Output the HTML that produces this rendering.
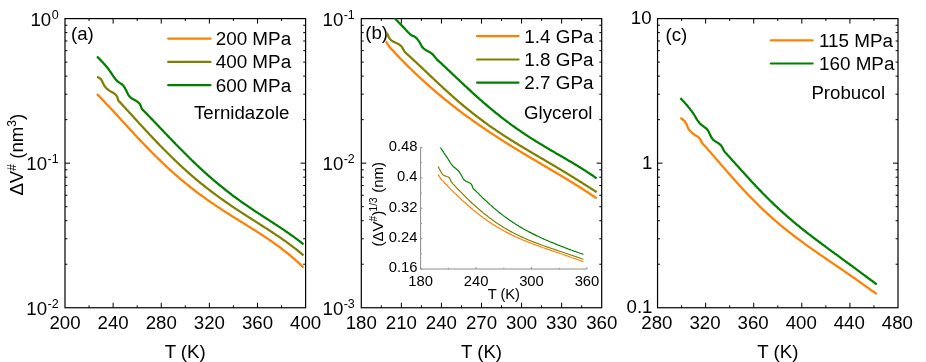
<!DOCTYPE html>
<html><head><meta charset="utf-8"><title>Activation volume vs temperature</title>
<style>
html,body{margin:0;padding:0;background:#fff;}
svg{display:block;}
text{font-family:'Liberation Sans', sans-serif;fill:#000;}
</style></head>
<body>
<svg width="926" height="362" viewBox="0 0 926 362">
<rect x="0" y="0" width="926" height="362" fill="#fff"/>
<rect x="65.0" y="18.6" width="240.60000000000002" height="289.15" fill="none" stroke="#000" stroke-width="1.2"/>
<path d="M113.12,307.75v-5.0 M113.12,18.6v5.0 M161.24,307.75v-5.0 M161.24,18.6v5.0 M209.36,307.75v-5.0 M209.36,18.6v5.0 M257.48,307.75v-5.0 M257.48,18.6v5.0 M89.06,307.75v-2.4 M89.06,18.6v2.4 M137.18,307.75v-2.4 M137.18,18.6v2.4 M185.30,307.75v-2.4 M185.30,18.6v2.4 M233.42,307.75v-2.4 M233.42,18.6v2.4 M281.54,307.75v-2.4 M281.54,18.6v2.4 M65.0,119.65h2.4 M305.6,119.65h-2.4 M65.0,94.20h2.4 M305.6,94.20h-2.4 M65.0,76.13h2.4 M305.6,76.13h-2.4 M65.0,62.12h2.4 M305.6,62.12h-2.4 M65.0,50.67h2.4 M305.6,50.67h-2.4 M65.0,40.99h2.4 M305.6,40.99h-2.4 M65.0,32.61h2.4 M305.6,32.61h-2.4 M65.0,25.22h2.4 M305.6,25.22h-2.4 M65.0,163.17h5.0 M305.6,163.17h-5.0 M65.0,264.23h2.4 M305.6,264.23h-2.4 M65.0,238.77h2.4 M305.6,238.77h-2.4 M65.0,220.71h2.4 M305.6,220.71h-2.4 M65.0,206.70h2.4 M305.6,206.70h-2.4 M65.0,195.25h2.4 M305.6,195.25h-2.4 M65.0,185.57h2.4 M305.6,185.57h-2.4 M65.0,177.19h2.4 M305.6,177.19h-2.4 M65.0,169.79h2.4 M305.6,169.79h-2.4" stroke="#000" stroke-width="1.0" fill="none"/>
<text x="65.0" y="328.7" font-size="18.67" text-anchor="middle">200</text>
<text x="113.1" y="328.7" font-size="18.67" text-anchor="middle">240</text>
<text x="161.2" y="328.7" font-size="18.67" text-anchor="middle">280</text>
<text x="209.4" y="328.7" font-size="18.67" text-anchor="middle">320</text>
<text x="257.5" y="328.7" font-size="18.67" text-anchor="middle">360</text>
<text x="305.6" y="328.7" font-size="18.67" text-anchor="middle">400</text>
<text x="58.6" y="25.8" font-size="18.67" text-anchor="end">10<tspan font-size="12.5" dy="-7.2" dx="0.4">0</tspan></text>
<text x="58.6" y="170.4" font-size="18.67" text-anchor="end">10<tspan font-size="12.5" dy="-7.2" dx="0.4">-1</tspan></text>
<text x="58.6" y="314.9" font-size="18.67" text-anchor="end">10<tspan font-size="12.5" dy="-7.2" dx="0.4">-2</tspan></text>
<text x="185.2" y="357.6" font-size="18.67" text-anchor="middle">T (K)</text>
<text transform="translate(23.3,195.6) rotate(-90)" font-size="18.67">ΔV<tspan font-size="12" dy="-7.5">#</tspan><tspan dy="7.5"> (nm</tspan><tspan font-size="12" dy="-7.5">3</tspan><tspan dy="7.5">)</tspan></text>
<text x="71" y="39.6" font-size="18.67">(a)</text>
<path d="M168.2,38.6H210.5" stroke="#ff8000" stroke-width="2.2" stroke-linecap="round" fill="none"/>
<text x="215.7" y="45.0" font-size="18.85">200 MPa</text>
<path d="M168.2,61.9H210.5" stroke="#808000" stroke-width="2.2" stroke-linecap="round" fill="none"/>
<text x="215.7" y="68.3" font-size="18.85">400 MPa</text>
<path d="M168.2,85.2H210.5" stroke="#008000" stroke-width="2.2" stroke-linecap="round" fill="none"/>
<text x="215.7" y="91.6" font-size="18.85">600 MPa</text>
<text x="194" y="119.4" font-size="18.67">Ternidazole</text>
<path d="M97.0,94.1 L98.0,95.1 L99.0,96.1 L100.0,97.2 L101.0,98.2 L102.0,99.2 L103.0,100.3 L104.0,101.3 L105.0,102.4 L106.0,103.4 L107.0,104.5 L108.0,105.5 L109.0,106.6 L110.0,107.7 L111.0,108.7 L112.0,109.8 L113.0,110.9 L114.0,112.0 L115.0,113.1 L116.0,114.1 L117.0,115.2 L118.0,116.3 L119.0,117.4 L120.0,118.5 L121.0,119.6 L122.0,120.7 L123.0,121.8 L124.0,122.8 L125.0,123.9 L126.0,125.0 L127.0,126.1 L128.0,127.2 L129.0,128.3 L130.0,129.4 L131.0,130.4 L132.0,131.5 L133.0,132.6 L134.0,133.7 L135.0,134.8 L136.0,135.8 L137.0,136.9 L138.0,138.0 L139.0,139.0 L140.0,140.1 L141.0,141.1 L142.0,142.2 L143.0,143.2 L144.0,144.3 L145.0,145.3 L146.0,146.4 L147.0,147.4 L148.0,148.4 L149.0,149.4 L150.0,150.5 L151.0,151.5 L152.0,152.5 L153.0,153.5 L154.0,154.5 L155.0,155.5 L156.0,156.5 L157.0,157.5 L158.0,158.4 L159.0,159.4 L160.0,160.4 L161.0,161.4 L162.0,162.3 L163.0,163.3 L164.0,164.2 L165.0,165.2 L166.0,166.1 L167.0,167.0 L168.0,168.0 L169.0,168.9 L170.0,169.8 L171.0,170.7 L172.0,171.6 L173.0,172.5 L174.0,173.4 L175.0,174.3 L176.0,175.1 L177.0,176.0 L178.0,176.9 L179.0,177.7 L180.0,178.6 L181.0,179.5 L182.0,180.3 L183.0,181.1 L184.0,182.0 L185.0,182.8 L186.0,183.6 L187.0,184.4 L188.0,185.2 L189.0,186.0 L190.0,186.8 L191.0,187.6 L192.0,188.4 L193.0,189.2 L194.0,190.0 L195.0,190.7 L196.0,191.5 L197.0,192.3 L198.0,193.0 L199.0,193.8 L200.0,194.5 L201.0,195.2 L202.0,196.0 L203.0,196.7 L204.0,197.4 L205.0,198.1 L206.0,198.9 L207.0,199.6 L208.0,200.3 L209.0,201.0 L210.0,201.7 L211.0,202.4 L212.0,203.0 L213.0,203.7 L214.0,204.4 L215.0,205.1 L216.0,205.8 L217.0,206.4 L218.0,207.1 L219.0,207.7 L220.0,208.4 L221.0,209.1 L222.0,209.7 L223.0,210.4 L224.0,211.0 L225.0,211.7 L226.0,212.3 L227.0,212.9 L228.0,213.6 L229.0,214.2 L230.0,214.8 L231.0,215.5 L232.0,216.1 L233.0,216.7 L234.0,217.3 L235.0,218.0 L236.0,218.6 L237.0,219.2 L238.0,219.8 L239.0,220.5 L240.0,221.1 L241.0,221.7 L242.0,222.3 L243.0,222.9 L244.0,223.6 L245.0,224.2 L246.0,224.8 L247.0,225.4 L248.0,226.1 L249.0,226.7 L250.0,227.3 L251.0,227.9 L252.0,228.6 L253.0,229.2 L254.0,229.8 L255.0,230.4 L256.0,231.1 L257.0,231.7 L258.0,232.4 L259.0,233.0 L260.0,233.7 L261.0,234.3 L262.0,235.0 L263.0,235.6 L264.0,236.3 L265.0,236.9 L266.0,237.6 L267.0,238.3 L268.0,238.9 L269.0,239.6 L270.0,240.3 L271.0,241.0 L272.0,241.7 L273.0,242.4 L274.0,243.1 L275.0,243.8 L276.0,244.5 L277.0,245.3 L278.0,246.0 L279.0,246.7 L280.0,247.5 L281.0,248.2 L282.0,249.0 L283.0,249.8 L284.0,250.5 L285.0,251.3 L286.0,252.1 L287.0,252.9 L288.0,253.7 L289.0,254.5 L290.0,255.3 L291.0,256.2 L292.0,257.0 L293.0,257.9 L294.0,258.7 L295.0,259.6 L296.0,260.5 L297.0,261.4 L298.0,262.3 L299.0,263.2 L300.0,264.1 L301.0,265.1 L302.0,266.0 L303.0,267.0 L303.5,267.4" stroke="#ff8000" stroke-width="2.25" fill="none" stroke-linejoin="round"/>
<path d="M97.0,77.0 L97.9,77.2 L98.8,77.6 L99.8,78.3 L100.7,79.0 L101.5,80.1 L102.4,81.7 L103.2,83.5 L104.1,85.3 L104.9,86.6 L105.9,87.7 L106.8,88.6 L107.8,89.4 L108.7,90.1 L109.7,90.8 L110.7,91.5 L111.7,92.0 L112.7,92.5 L113.6,93.1 L114.6,93.8 L115.6,94.6 L116.4,95.5 L117.2,96.9 L117.8,98.7 L118.3,100.5 L119.3,101.7 L120.3,102.6 L121.3,103.7 L122.3,104.8 L123.3,105.9 L124.3,107.0 L125.3,108.1 L126.3,109.2 L127.0,109.9 L127.6,110.6 L128.3,111.3 L129.3,112.4 L130.3,113.5 L131.3,114.6 L132.3,115.7 L133.3,116.8 L134.3,117.9 L135.3,119.0 L136.3,120.1 L137.3,121.2 L138.3,122.3 L139.3,123.4 L140.3,124.5 L141.3,125.5 L142.3,126.6 L143.3,127.7 L144.3,128.8 L145.3,129.9 L146.3,131.0 L147.3,132.0 L148.3,133.1 L149.3,134.2 L150.3,135.2 L151.3,136.3 L152.3,137.4 L153.3,138.4 L154.3,139.5 L155.3,140.5 L156.3,141.6 L157.3,142.6 L158.3,143.6 L159.3,144.7 L160.3,145.7 L161.3,146.7 L162.3,147.7 L163.3,148.8 L164.3,149.8 L165.3,150.8 L166.3,151.8 L167.3,152.8 L168.3,153.8 L169.3,154.8 L170.3,155.8 L171.3,156.7 L172.3,157.7 L173.3,158.7 L174.3,159.6 L175.3,160.6 L176.3,161.5 L177.3,162.5 L178.3,163.4 L179.3,164.4 L180.3,165.3 L181.3,166.2 L182.3,167.2 L183.3,168.1 L184.3,169.0 L185.3,169.9 L186.3,170.8 L187.3,171.7 L188.3,172.6 L189.3,173.4 L190.3,174.3 L191.3,175.2 L192.3,176.1 L193.3,176.9 L194.3,177.8 L195.3,178.6 L196.3,179.5 L197.3,180.3 L198.3,181.1 L199.3,182.0 L200.3,182.8 L201.3,183.6 L202.3,184.4 L203.3,185.2 L204.3,186.0 L205.3,186.8 L206.3,187.6 L207.3,188.4 L208.3,189.1 L209.3,189.9 L210.3,190.7 L211.3,191.5 L212.3,192.2 L213.3,193.0 L214.3,193.7 L215.3,194.5 L216.3,195.2 L217.3,195.9 L218.3,196.7 L219.3,197.4 L220.3,198.1 L221.3,198.8 L222.3,199.5 L223.3,200.2 L224.3,201.0 L225.3,201.7 L226.3,202.3 L227.3,203.0 L228.3,203.7 L229.3,204.4 L230.3,205.1 L231.3,205.8 L232.3,206.5 L233.3,207.1 L234.3,207.8 L235.3,208.5 L236.3,209.1 L237.3,209.8 L238.3,210.4 L239.3,211.1 L240.3,211.8 L241.3,212.4 L242.3,213.1 L243.3,213.7 L244.3,214.4 L245.3,215.0 L246.3,215.6 L247.3,216.3 L248.3,216.9 L249.3,217.6 L250.3,218.2 L251.3,218.8 L252.3,219.5 L253.3,220.1 L254.3,220.7 L255.3,221.4 L256.3,222.0 L257.3,222.6 L258.3,223.3 L259.3,223.9 L260.3,224.6 L261.3,225.2 L262.3,225.8 L263.3,226.5 L264.3,227.1 L265.3,227.8 L266.3,228.4 L267.3,229.0 L268.3,229.7 L269.3,230.3 L270.3,231.0 L271.3,231.7 L272.3,232.3 L273.3,233.0 L274.3,233.6 L275.3,234.3 L276.3,235.0 L277.3,235.6 L278.3,236.3 L279.3,237.0 L280.3,237.7 L281.3,238.4 L282.3,239.1 L283.3,239.8 L284.3,240.5 L285.3,241.2 L286.3,241.9 L287.3,242.6 L288.3,243.4 L289.3,244.1 L290.3,244.8 L291.3,245.6 L292.3,246.3 L293.3,247.1 L294.3,247.9 L295.3,248.6 L296.3,249.4 L297.3,250.2 L298.3,251.0 L299.3,251.8 L300.3,252.6 L301.3,253.5 L302.3,254.3 L302.9,254.8 L303.5,255.3" stroke="#808000" stroke-width="2.25" fill="none" stroke-linejoin="round"/>
<path d="M97.0,56.5 L98.0,57.4 L98.9,58.4 L99.9,59.4 L100.9,60.4 L101.8,61.4 L102.8,62.4 L103.7,63.5 L104.7,64.6 L105.7,65.7 L106.6,66.8 L107.6,68.0 L108.6,69.2 L109.5,70.6 L110.5,72.0 L111.5,73.4 L112.4,74.9 L113.4,76.3 L114.4,77.7 L115.4,79.0 L116.3,80.1 L117.3,81.1 L118.2,81.9 L119.2,82.5 L120.1,83.1 L121.0,83.7 L122.0,84.3 L122.9,85.2 L123.7,86.1 L124.5,87.3 L125.2,88.6 L126.0,90.0 L126.7,91.5 L127.5,93.2 L128.2,94.6 L129.0,95.8 L129.8,96.8 L130.7,97.6 L131.5,98.3 L132.3,98.8 L133.1,99.2 L133.8,99.6 L134.6,100.0 L135.5,100.5 L136.4,101.0 L137.3,101.6 L138.2,102.3 L139.1,103.1 L139.8,104.0 L140.5,105.2 L141.2,107.1 L141.8,108.8 L142.8,110.0 L143.8,110.8 L144.8,111.9 L145.8,112.9 L146.8,113.9 L147.8,114.9 L148.8,116.0 L149.8,117.0 L150.8,118.1 L151.8,119.1 L152.8,120.1 L153.8,121.2 L154.8,122.2 L155.8,123.3 L156.8,124.3 L157.8,125.4 L158.8,126.4 L159.8,127.5 L160.8,128.5 L161.8,129.6 L162.8,130.6 L163.8,131.7 L164.8,132.7 L165.8,133.8 L166.8,134.8 L167.8,135.9 L168.8,136.9 L169.8,138.0 L170.8,139.0 L171.8,140.0 L172.8,141.1 L173.8,142.1 L174.8,143.1 L175.8,144.2 L176.8,145.2 L177.8,146.2 L178.8,147.2 L179.8,148.3 L180.8,149.3 L181.8,150.3 L182.8,151.3 L183.8,152.3 L184.8,153.3 L185.8,154.3 L186.8,155.3 L187.8,156.3 L188.8,157.3 L189.8,158.3 L190.8,159.2 L191.8,160.2 L192.8,161.2 L193.8,162.1 L194.8,163.1 L195.8,164.0 L196.8,165.0 L197.8,165.9 L198.8,166.9 L199.8,167.8 L200.8,168.7 L201.8,169.7 L202.8,170.6 L203.8,171.5 L204.8,172.4 L205.8,173.3 L206.8,174.2 L207.8,175.1 L208.8,176.0 L209.8,176.8 L210.8,177.7 L211.8,178.6 L212.8,179.4 L213.8,180.3 L214.8,181.1 L215.8,182.0 L216.8,182.8 L217.8,183.7 L218.8,184.5 L219.8,185.3 L220.8,186.1 L221.8,186.9 L222.8,187.7 L223.8,188.5 L224.8,189.3 L225.8,190.1 L226.8,190.9 L227.8,191.7 L228.8,192.5 L229.8,193.2 L230.8,194.0 L231.8,194.8 L232.8,195.5 L233.8,196.3 L234.8,197.0 L235.8,197.7 L236.8,198.5 L237.8,199.2 L238.8,199.9 L239.8,200.6 L240.8,201.3 L241.8,202.1 L242.8,202.8 L243.8,203.5 L244.8,204.2 L245.8,204.9 L246.8,205.5 L247.8,206.2 L248.8,206.9 L249.8,207.6 L250.8,208.3 L251.8,208.9 L252.8,209.6 L253.8,210.3 L254.8,211.0 L255.8,211.6 L256.8,212.3 L257.8,212.9 L258.8,213.6 L259.8,214.2 L260.8,214.9 L261.8,215.5 L262.8,216.2 L263.8,216.8 L264.8,217.5 L265.8,218.1 L266.8,218.8 L267.8,219.4 L268.8,220.1 L269.8,220.7 L270.8,221.4 L271.8,222.0 L272.8,222.7 L273.8,223.3 L274.8,224.0 L275.8,224.6 L276.8,225.3 L277.8,225.9 L278.8,226.6 L279.8,227.2 L280.8,227.9 L281.8,228.6 L282.8,229.2 L283.8,229.9 L284.8,230.6 L285.8,231.3 L286.8,232.0 L287.8,232.7 L288.8,233.4 L289.8,234.1 L290.8,234.8 L291.8,235.5 L292.8,236.2 L293.8,236.9 L294.8,237.7 L295.8,238.4 L296.8,239.1 L297.8,239.9 L298.8,240.7 L299.8,241.4 L300.8,242.2 L301.8,243.0 L302.6,243.7 L303.5,244.4" stroke="#008000" stroke-width="2.25" fill="none" stroke-linejoin="round"/>
<rect x="361.3" y="18.6" width="240.40000000000003" height="289.15" fill="none" stroke="#000" stroke-width="1.2"/>
<path d="M401.37,307.75v-5.0 M401.37,18.6v5.0 M441.43,307.75v-5.0 M441.43,18.6v5.0 M481.50,307.75v-5.0 M481.50,18.6v5.0 M521.57,307.75v-5.0 M521.57,18.6v5.0 M561.63,307.75v-5.0 M561.63,18.6v5.0 M381.33,307.75v-2.4 M381.33,18.6v2.4 M421.40,307.75v-2.4 M421.40,18.6v2.4 M461.47,307.75v-2.4 M461.47,18.6v2.4 M501.53,307.75v-2.4 M501.53,18.6v2.4 M541.60,307.75v-2.4 M541.60,18.6v2.4 M581.67,307.75v-2.4 M581.67,18.6v2.4 M361.3,119.65h2.4 M601.7,119.65h-2.4 M361.3,94.20h2.4 M601.7,94.20h-2.4 M361.3,76.13h2.4 M601.7,76.13h-2.4 M361.3,62.12h2.4 M601.7,62.12h-2.4 M361.3,50.67h2.4 M601.7,50.67h-2.4 M361.3,40.99h2.4 M601.7,40.99h-2.4 M361.3,32.61h2.4 M601.7,32.61h-2.4 M361.3,25.22h2.4 M601.7,25.22h-2.4 M361.3,163.17h5.0 M601.7,163.17h-5.0 M361.3,264.23h2.4 M601.7,264.23h-2.4 M361.3,238.77h2.4 M601.7,238.77h-2.4 M361.3,220.71h2.4 M601.7,220.71h-2.4 M361.3,206.70h2.4 M601.7,206.70h-2.4 M361.3,195.25h2.4 M601.7,195.25h-2.4 M361.3,185.57h2.4 M601.7,185.57h-2.4 M361.3,177.19h2.4 M601.7,177.19h-2.4 M361.3,169.79h2.4 M601.7,169.79h-2.4" stroke="#000" stroke-width="1.0" fill="none"/>
<text x="361.3" y="328.7" font-size="18.67" text-anchor="middle">180</text>
<text x="401.4" y="328.7" font-size="18.67" text-anchor="middle">210</text>
<text x="441.4" y="328.7" font-size="18.67" text-anchor="middle">240</text>
<text x="481.5" y="328.7" font-size="18.67" text-anchor="middle">270</text>
<text x="521.6" y="328.7" font-size="18.67" text-anchor="middle">300</text>
<text x="561.6" y="328.7" font-size="18.67" text-anchor="middle">330</text>
<text x="601.7" y="328.7" font-size="18.67" text-anchor="middle">360</text>
<text x="354.8" y="25.8" font-size="18.67" text-anchor="end">10<tspan font-size="12.5" dy="-7.2" dx="0.4">-1</tspan></text>
<text x="354.8" y="170.4" font-size="18.67" text-anchor="end">10<tspan font-size="12.5" dy="-7.2" dx="0.4">-2</tspan></text>
<text x="354.8" y="314.9" font-size="18.67" text-anchor="end">10<tspan font-size="12.5" dy="-7.2" dx="0.4">-3</tspan></text>
<text x="481.5" y="357.6" font-size="18.67" text-anchor="middle">T (K)</text>
<text x="365.2" y="39.2" font-size="18.67">(b)</text>
<path d="M477.1,36.2H518.5" stroke="#ff8000" stroke-width="2.2" stroke-linecap="round" fill="none"/>
<text x="524.3" y="42.6" font-size="18.85">1.4 GPa</text>
<path d="M477.1,59.5H518.5" stroke="#808000" stroke-width="2.2" stroke-linecap="round" fill="none"/>
<text x="524.3" y="65.9" font-size="18.85">1.8 GPa</text>
<path d="M477.1,82.7H518.5" stroke="#008000" stroke-width="2.2" stroke-linecap="round" fill="none"/>
<text x="524.3" y="89.1" font-size="18.85">2.7 GPa</text>
<text x="524.1" y="118.6" font-size="18.67">Glycerol</text>
<clipPath id="cb"><rect x="361.3" y="18.6" width="240.40000000000003" height="289.15"/></clipPath>
<g clip-path="url(#cb)">
<path d="M386.0,41.3 L386.9,43.0 L387.9,44.6 L388.9,46.0 L389.8,47.3 L390.8,48.4 L391.8,49.5 L392.8,50.5 L393.8,51.6 L394.8,52.7 L395.8,53.8 L396.8,54.8 L397.8,55.9 L398.8,56.9 L399.8,58.0 L400.8,59.0 L401.8,60.0 L402.8,61.0 L403.8,62.1 L404.8,63.1 L405.8,64.1 L406.8,65.1 L407.8,66.1 L408.8,67.1 L409.8,68.0 L410.8,69.0 L411.8,70.0 L412.8,71.0 L413.8,71.9 L414.8,72.9 L415.8,73.8 L416.8,74.8 L417.8,75.7 L418.8,76.6 L419.8,77.6 L420.8,78.5 L421.8,79.4 L422.8,80.3 L423.8,81.2 L424.8,82.2 L425.8,83.1 L426.8,83.9 L427.8,84.8 L428.8,85.7 L429.8,86.6 L430.8,87.5 L431.8,88.4 L432.8,89.2 L433.8,90.1 L434.8,90.9 L435.8,91.8 L436.8,92.6 L437.8,93.5 L438.8,94.3 L439.8,95.2 L440.8,96.0 L441.8,96.8 L442.8,97.7 L443.8,98.5 L444.8,99.3 L445.8,100.1 L446.8,100.9 L447.8,101.7 L448.8,102.5 L449.8,103.3 L450.8,104.1 L451.8,104.9 L452.8,105.7 L453.8,106.5 L454.8,107.2 L455.8,108.0 L456.8,108.8 L457.8,109.5 L458.8,110.3 L459.8,111.1 L460.8,111.8 L461.8,112.6 L462.8,113.3 L463.8,114.1 L464.8,114.8 L465.8,115.5 L466.8,116.3 L467.8,117.0 L468.8,117.7 L469.8,118.4 L470.8,119.2 L471.8,119.9 L472.8,120.6 L473.8,121.3 L474.8,122.0 L475.8,122.7 L476.8,123.4 L477.8,124.1 L478.8,124.8 L479.8,125.5 L480.8,126.2 L481.8,126.9 L482.8,127.6 L483.8,128.3 L484.8,128.9 L485.8,129.6 L486.8,130.3 L487.8,131.0 L488.8,131.6 L489.8,132.3 L490.8,133.0 L491.8,133.6 L492.8,134.3 L493.8,134.9 L494.8,135.6 L495.8,136.2 L496.8,136.9 L497.8,137.5 L498.8,138.2 L499.8,138.8 L500.8,139.5 L501.8,140.1 L502.8,140.7 L503.8,141.4 L504.8,142.0 L505.8,142.6 L506.8,143.3 L507.8,143.9 L508.8,144.5 L509.8,145.1 L510.8,145.7 L511.8,146.4 L512.8,147.0 L513.8,147.6 L514.8,148.2 L515.8,148.8 L516.8,149.4 L517.8,150.0 L518.8,150.7 L519.8,151.3 L520.8,151.9 L521.8,152.5 L522.8,153.1 L523.8,153.7 L524.8,154.3 L525.8,154.9 L526.8,155.5 L527.8,156.1 L528.8,156.7 L529.8,157.3 L530.8,157.9 L531.8,158.5 L532.8,159.1 L533.8,159.6 L534.8,160.2 L535.8,160.8 L536.8,161.4 L537.8,162.0 L538.8,162.6 L539.8,163.2 L540.8,163.8 L541.8,164.4 L542.8,165.0 L543.8,165.6 L544.8,166.1 L545.8,166.7 L546.8,167.3 L547.8,167.9 L548.8,168.5 L549.8,169.1 L550.8,169.7 L551.8,170.3 L552.8,170.9 L553.8,171.5 L554.8,172.1 L555.8,172.6 L556.8,173.2 L557.8,173.8 L558.8,174.4 L559.8,175.0 L560.8,175.6 L561.8,176.2 L562.8,176.8 L563.8,177.4 L564.8,178.0 L565.8,178.6 L566.8,179.2 L567.8,179.8 L568.8,180.5 L569.8,181.1 L570.8,181.7 L571.8,182.3 L572.8,182.9 L573.8,183.5 L574.8,184.1 L575.8,184.8 L576.8,185.4 L577.8,186.0 L578.8,186.6 L579.8,187.3 L580.8,187.9 L581.8,188.5 L582.8,189.2 L583.8,189.8 L584.8,190.5 L585.8,191.1 L586.8,191.8 L587.8,192.4 L588.8,193.1 L589.8,193.8 L590.8,194.4 L591.8,195.1 L592.8,195.8 L593.8,196.4 L594.8,197.1 L595.8,197.8 L596.7,198.4" stroke="#ff8000" stroke-width="2.25" fill="none" stroke-linejoin="round"/>
<path d="M386.8,32.7 L387.8,35.1 L388.8,37.2 L389.8,38.8 L390.8,39.8 L391.8,40.6 L392.8,41.2 L393.7,41.8 L394.7,42.3 L395.7,42.7 L396.7,43.2 L397.7,43.6 L398.7,44.2 L399.6,44.8 L400.6,45.6 L401.6,46.5 L402.5,47.9 L403.4,49.7 L404.3,51.2 L405.3,52.4 L406.2,53.3 L407.2,54.2 L408.2,55.1 L409.2,56.0 L410.2,56.9 L411.2,57.8 L412.2,58.8 L413.2,59.7 L414.2,60.6 L415.2,61.5 L416.2,62.4 L417.2,63.4 L418.2,64.3 L419.2,65.3 L420.2,66.2 L421.2,67.1 L422.2,68.1 L423.2,69.0 L424.2,70.0 L425.2,70.9 L426.2,71.9 L427.2,72.8 L428.2,73.8 L429.2,74.7 L430.2,75.7 L431.2,76.6 L432.2,77.6 L433.2,78.5 L434.2,79.5 L435.2,80.4 L436.2,81.3 L437.2,82.3 L438.2,83.2 L439.2,84.2 L440.2,85.1 L441.2,86.0 L442.2,86.9 L443.2,87.9 L444.2,88.8 L445.2,89.7 L446.2,90.6 L447.2,91.5 L448.2,92.4 L449.2,93.3 L450.2,94.2 L451.2,95.1 L452.2,96.0 L453.2,96.9 L454.2,97.8 L455.2,98.7 L456.2,99.5 L457.2,100.4 L458.2,101.3 L459.2,102.1 L460.2,103.0 L461.2,103.8 L462.2,104.7 L463.2,105.5 L464.2,106.3 L465.2,107.2 L466.2,108.0 L467.2,108.8 L468.2,109.6 L469.2,110.4 L470.2,111.2 L471.2,112.0 L472.2,112.8 L473.2,113.6 L474.2,114.4 L475.2,115.2 L476.2,116.0 L477.2,116.7 L478.2,117.5 L479.2,118.2 L480.2,119.0 L481.2,119.7 L482.2,120.5 L483.2,121.2 L484.2,122.0 L485.2,122.7 L486.2,123.4 L487.2,124.1 L488.2,124.9 L489.2,125.6 L490.2,126.3 L491.2,127.0 L492.2,127.7 L493.2,128.4 L494.2,129.0 L495.2,129.7 L496.2,130.4 L497.2,131.1 L498.2,131.8 L499.2,132.4 L500.2,133.1 L501.2,133.8 L502.2,134.4 L503.2,135.1 L504.2,135.7 L505.2,136.4 L506.2,137.0 L507.2,137.6 L508.2,138.3 L509.2,138.9 L510.2,139.5 L510.9,140.0 L511.5,140.4 L512.2,140.8 L513.2,141.4 L514.2,142.0 L515.2,142.7 L516.2,143.3 L517.2,143.9 L518.2,144.5 L519.2,145.1 L520.2,145.7 L521.2,146.3 L522.2,146.9 L523.2,147.5 L524.2,148.1 L525.2,148.7 L526.2,149.3 L527.2,149.9 L528.2,150.5 L529.2,151.1 L530.2,151.7 L531.2,152.3 L532.2,152.9 L533.2,153.5 L534.2,154.0 L535.2,154.6 L536.2,155.2 L537.2,155.8 L538.2,156.4 L539.2,157.0 L540.2,157.6 L541.2,158.2 L542.2,158.7 L543.2,159.3 L544.2,159.9 L545.2,160.5 L546.2,161.1 L547.2,161.7 L548.2,162.3 L549.2,162.9 L550.2,163.4 L551.2,164.0 L552.2,164.6 L553.2,165.2 L554.2,165.8 L555.2,166.4 L556.2,167.0 L557.2,167.6 L558.2,168.2 L559.2,168.8 L560.2,169.4 L561.2,170.0 L562.2,170.6 L563.2,171.2 L564.2,171.8 L565.2,172.4 L566.2,173.0 L567.2,173.6 L568.2,174.2 L569.2,174.9 L570.2,175.5 L571.2,176.1 L572.2,176.7 L573.2,177.3 L574.2,177.9 L575.2,178.6 L576.2,179.2 L577.2,179.8 L578.2,180.4 L579.2,181.1 L580.2,181.7 L581.2,182.3 L582.2,182.9 L583.2,183.6 L584.2,184.2 L585.2,184.8 L586.2,185.5 L587.2,186.1 L588.2,186.7 L589.2,187.4 L590.2,188.0 L591.2,188.6 L592.2,189.3 L593.2,189.9 L594.2,190.5 L595.2,191.2 L596.2,191.8 L596.7,192.1" stroke="#808000" stroke-width="2.25" fill="none" stroke-linejoin="round"/>
<path d="M391.4,14.4 L392.3,15.4 L393.2,16.4 L394.1,17.4 L395.0,18.4 L396.0,19.4 L396.9,20.4 L397.9,21.5 L398.8,22.5 L399.8,23.4 L400.7,24.4 L401.7,25.4 L402.6,26.4 L403.6,27.4 L404.6,28.5 L405.6,29.6 L406.6,30.7 L407.6,31.8 L408.6,32.8 L409.6,33.8 L410.6,34.6 L411.5,35.2 L412.4,35.7 L413.4,36.1 L414.3,36.6 L415.2,37.1 L416.1,37.8 L416.9,38.6 L417.7,39.6 L418.6,40.8 L419.4,42.0 L420.2,43.3 L420.9,44.6 L421.6,46.0 L422.3,47.1 L423.2,48.1 L424.2,48.9 L425.1,49.6 L426.1,50.2 L427.0,50.7 L428.0,51.3 L428.9,51.8 L429.9,52.3 L430.8,52.9 L431.8,53.6 L432.7,54.4 L433.5,55.3 L434.3,56.3 L435.2,57.4 L436.0,58.4 L436.8,59.4 L437.8,60.3 L438.8,61.2 L439.8,62.1 L440.8,63.0 L441.8,63.9 L442.8,64.9 L443.8,65.8 L444.8,66.7 L445.8,67.7 L446.8,68.6 L447.8,69.6 L448.8,70.5 L449.8,71.4 L450.8,72.4 L451.8,73.3 L452.8,74.3 L453.8,75.2 L454.8,76.2 L455.8,77.1 L456.8,78.1 L457.8,79.0 L458.8,79.9 L459.8,80.9 L460.8,81.8 L461.8,82.8 L462.8,83.7 L463.8,84.6 L464.8,85.6 L465.8,86.5 L466.8,87.4 L467.8,88.4 L468.8,89.3 L469.8,90.2 L470.8,91.1 L471.8,92.1 L472.8,93.0 L473.8,93.9 L474.8,94.8 L475.8,95.7 L476.8,96.6 L477.8,97.5 L478.8,98.4 L479.8,99.3 L480.8,100.1 L481.8,101.0 L482.8,101.9 L483.8,102.8 L484.8,103.6 L485.8,104.5 L486.8,105.3 L487.8,106.2 L488.8,107.0 L489.8,107.9 L490.8,108.7 L491.8,109.6 L492.8,110.4 L493.8,111.2 L494.8,112.0 L495.8,112.8 L496.8,113.6 L497.8,114.4 L498.8,115.2 L499.8,116.0 L500.8,116.8 L501.8,117.6 L502.8,118.4 L503.8,119.1 L504.8,119.9 L505.8,120.6 L506.8,121.4 L507.8,122.2 L508.8,122.9 L509.8,123.6 L510.8,124.4 L511.8,125.1 L512.8,125.8 L513.8,126.5 L514.8,127.2 L515.8,128.0 L516.8,128.7 L517.8,129.4 L518.8,130.0 L519.8,130.7 L520.8,131.4 L521.8,132.1 L522.8,132.8 L523.8,133.4 L524.8,134.1 L525.8,134.8 L526.8,135.4 L527.8,136.1 L528.8,136.7 L529.8,137.4 L530.8,138.0 L531.8,138.6 L532.8,139.3 L533.8,139.9 L534.8,140.5 L535.8,141.2 L536.8,141.8 L537.8,142.4 L538.8,143.0 L539.8,143.6 L540.8,144.2 L541.8,144.8 L542.8,145.4 L543.8,146.0 L544.8,146.6 L545.8,147.2 L546.8,147.8 L547.8,148.4 L548.8,149.0 L549.8,149.6 L550.8,150.2 L551.8,150.8 L552.8,151.3 L553.8,151.9 L554.8,152.5 L555.8,153.1 L556.8,153.7 L557.8,154.2 L558.8,154.8 L559.8,155.4 L560.8,156.0 L561.8,156.6 L562.8,157.1 L563.8,157.7 L564.8,158.3 L565.8,158.9 L566.8,159.5 L567.8,160.1 L568.8,160.7 L569.8,161.2 L570.8,161.8 L571.8,162.4 L572.8,163.0 L573.8,163.6 L574.8,164.2 L575.8,164.8 L576.8,165.4 L577.8,166.0 L578.8,166.7 L579.8,167.3 L580.8,167.9 L581.8,168.5 L582.8,169.1 L583.8,169.8 L584.8,170.4 L585.8,171.1 L586.8,171.7 L587.8,172.4 L588.8,173.0 L589.8,173.7 L590.8,174.3 L591.8,175.0 L592.8,175.7 L593.8,176.4 L594.8,177.1 L595.8,177.8 L596.7,178.4" stroke="#008000" stroke-width="2.25" fill="none" stroke-linejoin="round"/>
</g>
<path d="M420.6,147.5V269.0H587.0" stroke="#8c8c8c" stroke-width="1" fill="none"/>
<path d="M420.60,269.0v-1.8 M448.33,269.0v-1.2 M476.07,269.0v-1.8 M503.80,269.0v-1.2 M531.53,269.0v-1.8 M559.27,269.0v-1.2 M587.00,269.0v-1.8 M420.6,269.00h1.8 M420.6,253.81h1.2 M420.6,238.62h1.8 M420.6,223.44h1.2 M420.6,208.25h1.8 M420.6,193.06h1.2 M420.6,177.88h1.8 M420.6,162.69h1.2 M420.6,147.50h1.8" stroke="#8c8c8c" stroke-width="1" fill="none"/>
<text x="420.6" y="285.6" font-size="14.8" text-anchor="middle">180</text>
<text x="476.1" y="285.6" font-size="14.8" text-anchor="middle">240</text>
<text x="531.5" y="285.6" font-size="14.8" text-anchor="middle">300</text>
<text x="587.0" y="285.6" font-size="14.8" text-anchor="middle">360</text>
<text x="417.6" y="272.4" font-size="14.8" text-anchor="end">0.16</text>
<text x="417.6" y="242.0" font-size="14.8" text-anchor="end">0.24</text>
<text x="417.6" y="211.7" font-size="14.8" text-anchor="end">0.32</text>
<text x="417.6" y="181.3" font-size="14.8" text-anchor="end">0.4</text>
<text x="417.6" y="150.9" font-size="14.8" text-anchor="end">0.48</text>
<text x="503.8" y="299.4" font-size="14.67" text-anchor="middle">T (K)</text>
<text transform="translate(383.2,246.5) rotate(-90)" font-size="15">(ΔV<tspan font-size="10.2" dy="-6.3">#</tspan><tspan dy="6.3">)</tspan><tspan font-size="10" dy="-6.6" dx="-0.6">1/3</tspan><tspan dy="6.6" dx="0.6"> (nm)</tspan></text>
<clipPath id="ci"><rect x="420.6" y="147.5" width="166.39999999999998" height="121.5"/></clipPath>
<g clip-path="url(#ci)">
<path d="M438.2,174.4 L439.2,176.3 L440.2,177.9 L441.2,179.3 L442.2,180.4 L443.2,181.4 L444.2,182.5 L445.2,183.5 L446.2,184.5 L447.2,185.5 L448.2,186.6 L449.2,187.6 L450.2,188.6 L451.2,189.6 L452.2,190.6 L453.2,191.6 L454.2,192.6 L455.2,193.6 L456.2,194.5 L457.2,195.5 L458.2,196.5 L459.2,197.4 L460.2,198.3 L461.2,199.3 L462.2,200.2 L463.2,201.1 L464.2,202.0 L465.2,202.9 L466.2,203.8 L467.2,204.7 L468.2,205.6 L469.2,206.5 L470.2,207.3 L471.2,208.2 L472.2,209.0 L473.2,209.9 L474.2,210.7 L475.2,211.5 L476.2,212.3 L477.2,213.1 L478.2,213.9 L479.2,214.7 L480.2,215.4 L481.2,216.2 L482.2,216.9 L483.2,217.7 L484.2,218.4 L485.2,219.1 L486.2,219.8 L487.2,220.5 L488.2,221.2 L489.2,221.9 L490.2,222.6 L491.2,223.2 L492.2,223.9 L493.2,224.5 L494.2,225.2 L495.2,225.8 L496.2,226.4 L497.2,227.0 L498.2,227.6 L499.2,228.2 L500.2,228.8 L501.2,229.3 L502.2,229.9 L503.2,230.5 L504.2,231.0 L505.2,231.6 L506.2,232.1 L507.2,232.6 L508.2,233.1 L509.2,233.6 L510.2,234.1 L511.2,234.6 L511.9,235.0 L512.5,235.3 L513.2,235.6 L514.2,236.1 L515.2,236.6 L516.2,237.0 L517.2,237.5 L518.2,237.9 L519.2,238.4 L520.2,238.8 L521.2,239.2 L522.2,239.7 L523.2,240.1 L524.2,240.5 L525.2,240.9 L526.2,241.3 L527.2,241.7 L528.2,242.1 L529.2,242.5 L530.2,242.9 L531.2,243.3 L532.2,243.7 L533.2,244.0 L534.2,244.4 L535.2,244.8 L536.2,245.2 L537.2,245.5 L538.2,245.9 L539.2,246.2 L540.2,246.6 L541.2,247.0 L542.2,247.3 L543.2,247.7 L544.2,248.0 L545.2,248.4 L546.2,248.7 L547.2,249.1 L548.2,249.4 L549.2,249.7 L550.2,250.1 L551.2,250.4 L552.2,250.8 L553.2,251.1 L554.2,251.4 L555.2,251.8 L556.2,252.1 L557.2,252.5 L558.2,252.8 L559.2,253.1 L560.2,253.5 L561.2,253.8 L562.2,254.2 L563.2,254.5 L564.2,254.9 L565.2,255.2 L566.2,255.6 L567.2,255.9 L568.2,256.2 L569.2,256.6 L570.2,257.0 L571.2,257.3 L572.2,257.7 L573.2,258.0 L574.2,258.4 L575.2,258.7 L576.2,259.1 L577.2,259.5 L578.2,259.8 L579.2,260.2 L580.2,260.6 L581.2,260.9 L582.2,261.3 L583.2,261.7 L583.4,261.7" stroke="#ff8000" stroke-width="1.2" fill="none" stroke-linejoin="round"/>
<path d="M438.2,166.5 L439.2,168.7 L440.2,170.6 L441.2,172.3 L441.9,173.4 L442.6,174.3 L443.3,175.0 L444.2,175.6 L445.1,175.9 L446.0,176.2 L446.8,176.5 L447.7,176.8 L448.6,177.3 L449.5,178.0 L450.2,179.5 L450.9,181.2 L451.8,182.5 L452.7,183.6 L453.6,184.6 L454.6,185.7 L455.6,186.7 L456.6,187.8 L457.6,188.8 L458.6,189.9 L459.6,190.9 L460.6,191.9 L461.6,192.9 L462.6,193.9 L463.6,194.9 L464.6,195.9 L465.6,196.9 L466.6,197.9 L467.6,198.9 L468.6,199.9 L469.6,200.8 L470.6,201.8 L471.6,202.7 L472.6,203.6 L473.6,204.5 L474.6,205.4 L475.6,206.3 L476.6,207.2 L477.6,208.1 L478.6,209.0 L479.6,209.8 L480.6,210.7 L481.6,211.5 L482.6,212.4 L483.6,213.2 L484.6,214.0 L485.6,214.8 L486.6,215.6 L487.6,216.3 L488.6,217.1 L489.6,217.9 L490.6,218.6 L491.6,219.3 L492.6,220.1 L493.6,220.8 L494.6,221.5 L495.6,222.2 L496.6,222.9 L497.6,223.5 L498.6,224.2 L499.6,224.8 L500.6,225.5 L501.6,226.1 L502.6,226.7 L503.6,227.4 L504.6,228.0 L505.6,228.6 L506.6,229.1 L507.6,229.7 L508.6,230.3 L509.6,230.8 L510.6,231.4 L511.6,231.9 L512.6,232.5 L513.6,233.0 L514.6,233.5 L515.6,234.0 L516.6,234.5 L517.6,235.0 L518.6,235.5 L519.6,236.0 L520.6,236.4 L521.6,236.9 L522.6,237.4 L523.6,237.8 L524.6,238.3 L525.6,238.7 L526.6,239.1 L527.6,239.5 L528.6,240.0 L529.6,240.4 L530.6,240.8 L531.6,241.2 L532.6,241.6 L533.6,242.0 L534.6,242.4 L535.6,242.8 L536.6,243.1 L537.6,243.5 L538.6,243.9 L539.6,244.3 L540.6,244.6 L541.6,245.0 L542.6,245.3 L543.6,245.7 L544.6,246.0 L545.6,246.4 L546.6,246.7 L547.6,247.1 L548.6,247.4 L549.6,247.8 L550.6,248.1 L551.6,248.5 L552.6,248.8 L553.6,249.1 L554.6,249.5 L555.6,249.8 L556.6,250.1 L557.6,250.5 L558.6,250.8 L559.6,251.2 L560.6,251.5 L561.6,251.8 L562.6,252.2 L563.6,252.5 L564.6,252.8 L565.6,253.2 L566.6,253.5 L567.6,253.8 L568.6,254.2 L569.6,254.5 L570.6,254.9 L571.6,255.2 L572.6,255.5 L573.6,255.9 L574.6,256.2 L575.6,256.6 L576.6,256.9 L577.6,257.3 L578.6,257.6 L579.6,258.0 L580.6,258.3 L581.6,258.7 L582.5,259.0 L583.4,259.3" stroke="#808000" stroke-width="1.2" fill="none" stroke-linejoin="round"/>
<path d="M437.6,143.4 L438.6,144.8 L439.5,146.3 L440.5,147.7 L441.4,149.0 L442.3,150.3 L443.2,151.6 L444.0,153.0 L444.9,154.3 L445.8,155.6 L446.7,156.9 L447.6,158.3 L448.5,159.7 L449.4,161.1 L450.2,162.5 L451.1,163.8 L452.0,165.0 L452.9,166.1 L453.8,167.0 L454.8,167.8 L455.7,168.5 L456.6,169.2 L457.6,170.0 L458.5,170.9 L459.4,172.1 L460.3,173.5 L461.2,175.0 L462.1,176.7 L463.1,178.5 L464.0,179.8 L464.9,180.6 L465.9,181.2 L466.9,181.6 L467.8,182.0 L468.8,182.4 L469.7,182.9 L470.7,183.6 L471.6,184.6 L472.3,186.3 L473.0,188.2 L474.0,189.3 L475.0,190.2 L476.0,191.2 L477.0,192.2 L478.0,193.2 L479.0,194.2 L480.0,195.2 L481.0,196.1 L482.0,197.1 L483.0,198.1 L484.0,199.0 L485.0,200.0 L486.0,200.9 L487.0,201.8 L488.0,202.7 L489.0,203.7 L490.0,204.6 L491.0,205.4 L492.0,206.3 L493.0,207.2 L494.0,208.1 L495.0,208.9 L496.0,209.8 L497.0,210.6 L498.0,211.4 L499.0,212.2 L500.0,213.0 L501.0,213.8 L502.0,214.6 L503.0,215.4 L504.0,216.1 L505.0,216.9 L506.0,217.6 L507.0,218.3 L508.0,219.0 L509.0,219.7 L510.0,220.4 L511.0,221.1 L512.0,221.8 L513.0,222.5 L514.0,223.1 L515.0,223.8 L516.0,224.4 L517.0,225.0 L518.0,225.6 L519.0,226.3 L520.0,226.9 L521.0,227.4 L522.0,228.0 L523.0,228.6 L524.0,229.2 L525.0,229.7 L526.0,230.3 L527.0,230.8 L528.0,231.3 L529.0,231.9 L530.0,232.4 L531.0,232.9 L532.0,233.4 L533.0,233.9 L534.0,234.4 L535.0,234.9 L536.0,235.4 L537.0,235.9 L538.0,236.3 L539.0,236.8 L540.0,237.3 L541.0,237.7 L542.0,238.2 L543.0,238.6 L544.0,239.1 L545.0,239.5 L546.0,240.0 L547.0,240.4 L548.0,240.8 L549.0,241.2 L550.0,241.7 L551.0,242.1 L552.0,242.5 L553.0,242.9 L554.0,243.3 L555.0,243.7 L556.0,244.1 L557.0,244.6 L558.0,245.0 L559.0,245.4 L560.0,245.8 L561.0,246.1 L562.0,246.5 L563.0,246.9 L564.0,247.3 L565.0,247.7 L566.0,248.1 L567.0,248.5 L568.0,248.9 L569.0,249.2 L570.0,249.6 L571.0,250.0 L572.0,250.3 L573.0,250.7 L574.0,251.1 L575.0,251.4 L576.0,251.8 L577.0,252.1 L578.0,252.5 L579.0,252.8 L580.0,253.2 L581.0,253.5 L582.0,253.8 L583.0,254.2 L583.4,254.3" stroke="#008000" stroke-width="1.2" fill="none" stroke-linejoin="round"/>
</g>
<rect x="657.55" y="18.6" width="240.45000000000005" height="289.15" fill="none" stroke="#000" stroke-width="1.2"/>
<path d="M705.64,307.75v-5.0 M705.64,18.6v5.0 M753.73,307.75v-5.0 M753.73,18.6v5.0 M801.82,307.75v-5.0 M801.82,18.6v5.0 M849.91,307.75v-5.0 M849.91,18.6v5.0 M681.59,307.75v-2.4 M681.59,18.6v2.4 M729.68,307.75v-2.4 M729.68,18.6v2.4 M777.77,307.75v-2.4 M777.77,18.6v2.4 M825.87,307.75v-2.4 M825.87,18.6v2.4 M873.96,307.75v-2.4 M873.96,18.6v2.4 M657.55,119.65h2.4 M898.0,119.65h-2.4 M657.55,94.20h2.4 M898.0,94.20h-2.4 M657.55,76.13h2.4 M898.0,76.13h-2.4 M657.55,62.12h2.4 M898.0,62.12h-2.4 M657.55,50.67h2.4 M898.0,50.67h-2.4 M657.55,40.99h2.4 M898.0,40.99h-2.4 M657.55,32.61h2.4 M898.0,32.61h-2.4 M657.55,25.22h2.4 M898.0,25.22h-2.4 M657.55,163.17h5.0 M898.0,163.17h-5.0 M657.55,264.23h2.4 M898.0,264.23h-2.4 M657.55,238.77h2.4 M898.0,238.77h-2.4 M657.55,220.71h2.4 M898.0,220.71h-2.4 M657.55,206.70h2.4 M898.0,206.70h-2.4 M657.55,195.25h2.4 M898.0,195.25h-2.4 M657.55,185.57h2.4 M898.0,185.57h-2.4 M657.55,177.19h2.4 M898.0,177.19h-2.4 M657.55,169.79h2.4 M898.0,169.79h-2.4" stroke="#000" stroke-width="1.0" fill="none"/>
<text x="656.9" y="328.7" font-size="18.67" text-anchor="middle">280</text>
<text x="705.0" y="328.7" font-size="18.67" text-anchor="middle">320</text>
<text x="753.1" y="328.7" font-size="18.67" text-anchor="middle">360</text>
<text x="801.2" y="328.7" font-size="18.67" text-anchor="middle">400</text>
<text x="849.3" y="328.7" font-size="18.67" text-anchor="middle">440</text>
<text x="897.4" y="328.7" font-size="18.67" text-anchor="middle">480</text>
<text x="651.6" y="24.2" font-size="18.67" text-anchor="end">10</text>
<text x="652.5" y="168.8" font-size="18.67" text-anchor="end">1</text>
<text x="652.5" y="313.4" font-size="18.67" text-anchor="end">0.1</text>
<text x="777.8" y="357.6" font-size="18.67" text-anchor="middle">T (K)</text>
<text x="665.5" y="41.4" font-size="18.67">(c)</text>
<path d="M770.8,40.3H812.6" stroke="#ff8000" stroke-width="2.2" stroke-linecap="round" fill="none"/>
<text x="819.0" y="46.7" font-size="18.85">115 MPa</text>
<path d="M770.8,63.5H812.6" stroke="#008000" stroke-width="2.2" stroke-linecap="round" fill="none"/>
<text x="819.0" y="69.9" font-size="18.85">160 MPa</text>
<text x="811.4" y="98.6" font-size="18.67">Probucol</text>
<path d="M680.3,118.2 L681.3,118.5 L682.2,119.0 L683.2,119.8 L684.2,120.7 L685.1,121.8 L686.0,123.3 L686.9,125.0 L687.7,127.1 L688.5,129.0 L689.5,130.2 L690.4,131.2 L691.2,132.0 L692.1,132.8 L692.9,133.5 L693.8,134.1 L694.6,134.8 L695.6,135.5 L696.5,136.0 L697.5,136.6 L698.4,137.2 L699.4,138.1 L700.3,139.5 L701.2,141.4 L702.1,143.0 L703.1,144.2 L704.1,145.2 L705.1,146.3 L706.1,147.5 L707.1,148.6 L708.1,149.7 L709.1,150.9 L710.1,152.0 L711.1,153.1 L712.1,154.3 L713.1,155.4 L714.1,156.6 L715.1,157.7 L716.1,158.9 L717.1,160.0 L718.1,161.2 L719.1,162.3 L720.1,163.5 L721.1,164.7 L722.1,165.8 L723.1,167.0 L724.1,168.1 L725.1,169.3 L726.1,170.4 L727.1,171.6 L728.1,172.7 L729.1,173.8 L730.1,175.0 L731.1,176.1 L732.1,177.2 L733.1,178.4 L734.1,179.5 L735.1,180.6 L736.1,181.7 L737.1,182.8 L738.1,183.9 L739.1,185.0 L740.1,186.1 L741.1,187.2 L742.1,188.3 L743.1,189.4 L744.1,190.5 L745.1,191.5 L746.1,192.6 L747.1,193.6 L748.1,194.7 L749.1,195.7 L750.1,196.8 L751.1,197.8 L752.1,198.8 L753.1,199.8 L754.1,200.8 L755.1,201.8 L756.1,202.8 L757.1,203.8 L758.1,204.8 L759.1,205.8 L760.1,206.8 L761.1,207.7 L762.1,208.7 L763.1,209.6 L764.1,210.6 L765.1,211.5 L766.1,212.4 L767.1,213.4 L768.1,214.3 L769.1,215.2 L770.1,216.1 L771.1,217.0 L772.1,217.9 L773.1,218.8 L774.1,219.7 L775.1,220.5 L776.1,221.4 L777.1,222.2 L778.1,223.1 L779.1,223.9 L780.1,224.8 L781.1,225.6 L782.1,226.4 L783.1,227.3 L784.1,228.1 L785.1,228.9 L786.1,229.7 L787.1,230.5 L788.1,231.3 L789.1,232.1 L790.1,232.9 L791.1,233.7 L792.1,234.4 L793.1,235.2 L794.1,236.0 L795.1,236.7 L796.1,237.5 L797.1,238.2 L798.1,239.0 L799.1,239.7 L800.1,240.5 L801.1,241.2 L802.1,241.9 L803.1,242.7 L804.1,243.4 L805.1,244.1 L806.1,244.8 L807.1,245.6 L808.1,246.3 L809.1,247.0 L810.1,247.7 L811.1,248.4 L812.1,249.1 L813.1,249.8 L814.1,250.5 L815.1,251.2 L816.1,251.9 L817.1,252.6 L818.1,253.3 L819.1,254.0 L820.1,254.7 L821.1,255.4 L822.1,256.0 L823.1,256.7 L824.1,257.4 L825.1,258.1 L826.1,258.8 L827.1,259.5 L828.1,260.1 L829.1,260.8 L830.1,261.5 L831.1,262.2 L832.1,262.9 L833.1,263.6 L834.1,264.2 L835.1,264.9 L836.1,265.6 L837.1,266.3 L838.1,267.0 L839.1,267.7 L840.1,268.3 L841.1,269.0 L842.1,269.7 L843.1,270.4 L844.1,271.1 L845.1,271.8 L846.1,272.5 L847.1,273.2 L848.1,273.9 L849.1,274.5 L850.1,275.2 L851.1,275.9 L852.1,276.6 L853.1,277.3 L854.1,278.0 L855.1,278.7 L856.1,279.4 L857.1,280.1 L858.1,280.8 L859.1,281.5 L860.1,282.2 L861.1,283.0 L862.1,283.7 L863.1,284.4 L864.1,285.1 L865.1,285.8 L866.1,286.5 L867.1,287.2 L868.1,287.9 L869.1,288.6 L870.1,289.4 L871.1,290.1 L872.1,290.8 L873.1,291.5 L874.1,292.2 L875.1,292.9 L876.1,293.6 L876.8,294.1" stroke="#ff8000" stroke-width="2.25" fill="none" stroke-linejoin="round"/>
<path d="M680.3,98.1 L681.3,99.0 L682.2,100.0 L683.2,101.0 L684.1,102.0 L685.1,103.1 L686.0,104.2 L687.0,105.3 L688.0,106.5 L688.9,107.6 L689.9,108.8 L690.8,110.1 L691.8,111.3 L692.7,112.6 L693.6,114.0 L694.6,115.5 L695.5,117.0 L696.4,118.6 L697.3,120.1 L698.3,121.4 L699.2,122.7 L700.1,123.7 L701.0,124.5 L701.9,125.2 L702.8,125.9 L703.6,126.5 L704.5,127.1 L705.4,127.8 L706.3,128.5 L706.8,129.0 L707.4,129.6 L708.3,131.0 L709.1,132.7 L710.0,134.5 L710.9,136.4 L711.8,138.1 L712.8,139.2 L713.7,140.1 L714.7,140.9 L715.7,141.5 L716.6,142.1 L717.6,142.7 L718.6,143.3 L719.6,144.1 L720.5,144.9 L721.5,146.0 L722.5,147.7 L723.5,149.8 L724.5,151.6 L725.5,152.8 L726.5,153.8 L727.5,154.9 L728.5,156.0 L729.5,157.1 L730.5,158.2 L731.5,159.3 L732.5,160.4 L733.5,161.5 L734.5,162.6 L735.5,163.8 L736.5,164.9 L737.5,166.0 L738.5,167.1 L739.5,168.2 L740.5,169.3 L741.5,170.4 L742.5,171.5 L743.5,172.6 L744.5,173.7 L745.5,174.8 L746.5,175.9 L747.5,177.0 L748.5,178.1 L749.5,179.2 L750.5,180.3 L751.5,181.4 L752.5,182.5 L753.5,183.5 L754.5,184.6 L755.5,185.7 L756.5,186.7 L757.5,187.8 L758.5,188.8 L759.5,189.9 L760.5,190.9 L761.5,191.9 L762.5,193.0 L763.5,194.0 L764.5,195.0 L765.5,196.0 L766.5,197.0 L767.5,198.0 L768.5,199.0 L769.5,200.0 L770.5,201.0 L771.5,201.9 L772.5,202.9 L773.5,203.9 L774.5,204.8 L775.5,205.8 L776.5,206.7 L777.5,207.6 L778.5,208.6 L779.5,209.5 L780.5,210.4 L781.5,211.3 L782.5,212.2 L783.5,213.1 L784.5,214.0 L785.5,214.9 L786.5,215.8 L787.5,216.7 L788.5,217.5 L789.5,218.4 L790.5,219.2 L791.5,220.1 L792.5,220.9 L793.5,221.8 L794.5,222.6 L795.5,223.5 L796.5,224.3 L797.5,225.1 L798.5,225.9 L799.5,226.7 L800.5,227.6 L801.5,228.4 L802.5,229.2 L803.5,230.0 L804.5,230.7 L805.5,231.5 L806.5,232.3 L807.5,233.1 L808.5,233.9 L809.5,234.6 L810.5,235.4 L811.5,236.2 L812.5,237.0 L813.5,237.7 L814.5,238.5 L815.5,239.2 L816.5,240.0 L817.5,240.7 L818.5,241.5 L819.5,242.2 L820.5,243.0 L821.5,243.7 L822.5,244.5 L823.5,245.2 L824.5,245.9 L825.5,246.7 L826.5,247.4 L827.5,248.1 L828.5,248.9 L829.5,249.6 L830.5,250.3 L831.5,251.1 L832.5,251.8 L833.5,252.5 L834.5,253.3 L835.5,254.0 L836.5,254.7 L837.5,255.4 L838.5,256.2 L839.5,256.9 L840.5,257.6 L841.5,258.4 L842.5,259.1 L843.5,259.8 L844.5,260.6 L845.5,261.3 L846.5,262.0 L847.5,262.8 L848.5,263.5 L849.5,264.2 L850.5,265.0 L851.5,265.7 L852.5,266.4 L853.5,267.2 L854.5,267.9 L855.5,268.6 L856.5,269.4 L857.5,270.1 L858.5,270.9 L859.5,271.6 L860.5,272.3 L861.5,273.1 L862.5,273.8 L863.5,274.6 L864.5,275.3 L865.5,276.0 L866.5,276.8 L867.5,277.5 L868.5,278.3 L869.5,279.0 L870.5,279.8 L871.5,280.5 L872.5,281.2 L873.5,282.0 L874.5,282.7 L875.5,283.5 L876.5,284.2 L876.8,284.4" stroke="#008000" stroke-width="2.25" fill="none" stroke-linejoin="round"/>
</svg>
</body></html>
